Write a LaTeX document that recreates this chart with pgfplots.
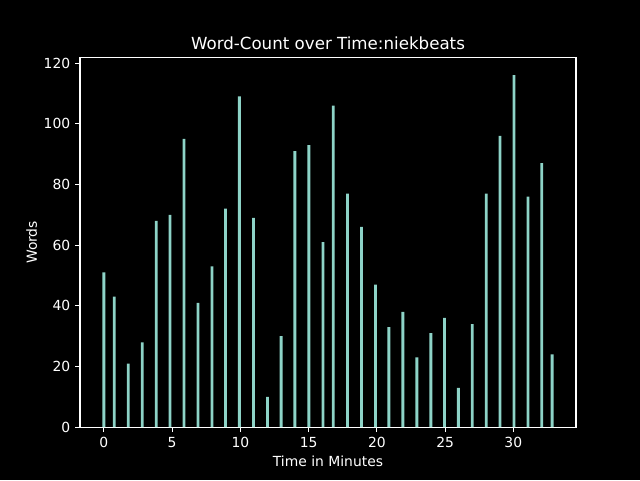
\documentclass[border=0pt]{standalone}
\usepackage{pgfplots}
\pgfplotsset{compat=1.18}
\usepackage{fontspec}
\setmainfont{DejaVu Sans}
\definecolor{barc}{HTML}{8DD3C7}
\begin{document}
\begin{tikzpicture}
\fill[black] (-57.6pt,-38.02pt) rectangle (403.2pt,307.6pt);
\begin{axis}[
  scale only axis, width=357.1pt, height=266.1pt,
  at={(0,0)}, anchor=south west,
  xmin=-1.75, xmax=34.59, ymin=0, ymax=121.8,
  xtick={0,5,...,30}, ytick={0,20,...,120},
  axis line style={white, line width=0.8pt},
  tick style={white, line width=0.8pt},
  tick align=outside, tick pos=left,
  major tick length=3.5pt,
  /pgf/number format/assume math mode=true,
  ticklabel style={font=\fontsize{10}{12}\selectfont, text=white},
  xlabel={Time in Minutes}, ylabel={Words},
  label style={font=\fontsize{10}{12}\selectfont, text=white},
  title={Word-Count over Time:niekbeats},
  title style={font=\fontsize{12}{14}\selectfont, text=white, at={(0.5,1)}, anchor=base, yshift=0pt},
  xlabel style={yshift=1pt},
  ylabel style={yshift=-2pt},
]
\addplot[ybar, bar width=0.21, bar shift=0pt, fill=barc, draw=none] coordinates {
(0,51) (0.76,43) (1.79,21) (2.81,28) (3.84,68) (4.84,70) (5.87,95) (6.90,41)
(7.92,53) (8.91,72) (9.93,109) (10.96,69) (11.99,10) (12.99,30) (13.99,91)
(15.02,93) (16.05,61) (16.81,106) (17.85,77) (18.88,66) (19.90,47) (20.88,33)
(21.91,38) (22.93,23) (23.96,31) (24.96,36) (25.97,13) (26.99,34) (28.02,77)
(29.02,96) (30.05,116) (31.07,76) (32.08,87) (32.84,24)
};
\end{axis}
\end{tikzpicture}
\end{document}
